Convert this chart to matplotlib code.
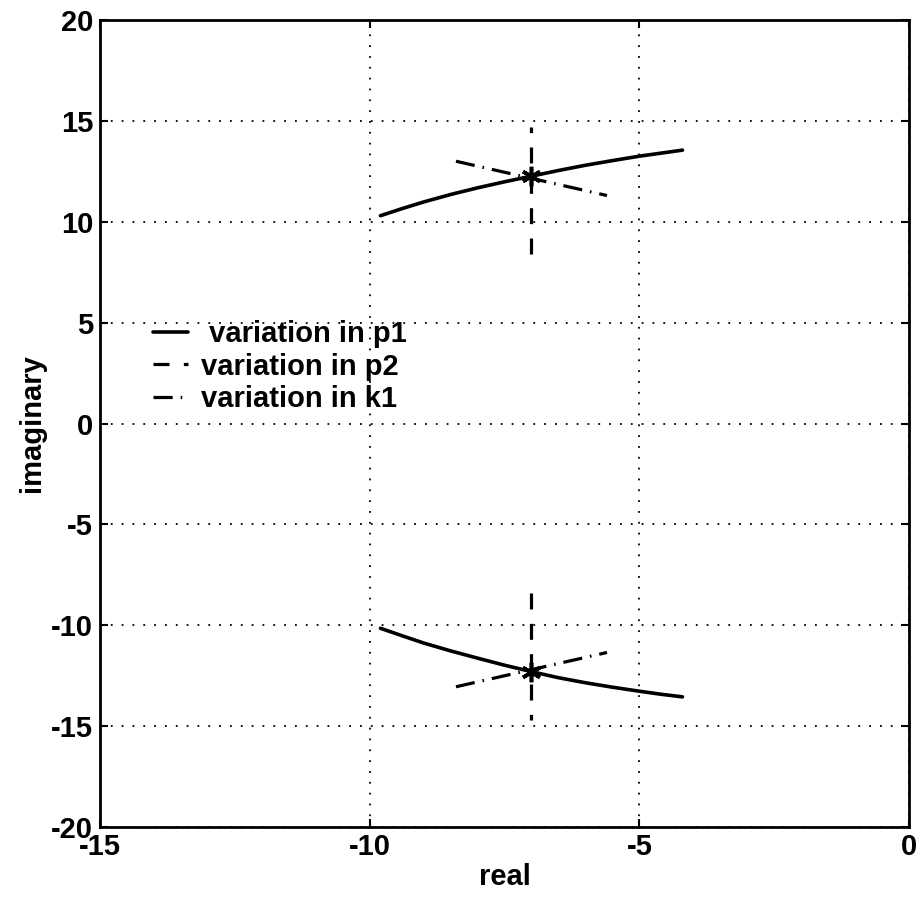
import matplotlib
matplotlib.use('Agg')
import matplotlib.pyplot as plt
from matplotlib.lines import Line2D

# root locus sensitivity: pole at -7 +/- 12.3j
star_re = [-7.0, -7.0]
star_im = [12.26, -12.3]

# variation in p1 (solid)
p1_up_re = [-9.8, -9.4, -9.0, -8.5, -8.0, -7.5, -7.0, -6.5, -6.0, -5.5, -5.0, -4.6, -4.2]
p1_up_im = [10.3, 10.65, 10.98, 11.35, 11.68, 11.98, 12.26, 12.54, 12.8, 13.03, 13.25, 13.4, 13.55]
p1_lo_re = [-9.8, -9.4, -9.0, -8.5, -8.0, -7.5, -7.0, -6.5, -6.0, -5.5, -5.0, -4.6, -4.2]
p1_lo_im = [-10.15, -10.52, -10.88, -11.27, -11.63, -11.98, -12.3, -12.6, -12.85, -13.07, -13.27, -13.42, -13.55]

# variation in p2 (dashed)
p2_up_re = [-7.0, -7.0]
p2_up_im = [8.4, 14.7]
p2_lo_re = [-7.0, -7.0]
p2_lo_im = [-8.4, -14.7]

# variation in k1 (dash-dot)
k1_up_re = [-8.4, -5.6]
k1_up_im = [13.0, 11.3]
k1_lo_re = [-8.4, -5.6]
k1_lo_im = [-13.05, -11.35]

xticks = [-15, -10, -5, 0]
yticks = [20, 15, 10, 5, 0, -5, -10, -15, -20]

plt.rcParams['font.family'] = ['Liberation Sans', 'DejaVu Sans']
plt.rcParams['font.weight'] = 'bold'
plt.rcParams['font.size'] = 21

fig = plt.figure(figsize=(9.21, 9.05), dpi=100)
ax = fig.add_axes([100 / 921, 1 - 827 / 905, 809 / 921, 807 / 905])

solid = dict(color='black', lw=2.6, solid_capstyle='round', solid_joinstyle='round')
dashed = dict(color='black', lw=2.3, linestyle=(0, (5.0, 4.5)))
dashdot = dict(color='black', lw=2.3, linestyle=(0, (6.0, 2.5, 0.5, 2.5)))

ax.plot(p1_up_re, p1_up_im, **solid)
ax.plot(p1_lo_re, p1_lo_im, **solid)
ax.plot(p2_up_re, p2_up_im, **dashed)
ax.plot(p2_lo_re, p2_lo_im, **dashed)
ax.plot(k1_up_re, k1_up_im, **dashdot)
ax.plot(k1_lo_re, k1_lo_im, **dashdot)
ax.plot(star_re, star_im, linestyle='none', marker=(6, 2, 0), markersize=14,
        markeredgewidth=2.6, color='black')

ax.set_xlim(-15, 0)
ax.set_ylim(-20, 20)
ax.set_xticks(xticks)
ax.set_yticks(yticks)
ax.set_xticklabels([str(v) for v in xticks])
ax.set_yticklabels([str(v) for v in yticks])
ax.tick_params(direction='in', length=6, width=1.5, top=True, right=True,
               labelsize=21, pad=5)
ax.tick_params(axis='x', pad=4)
ax.grid(True, color='black', linestyle=(0, (1, 5.0)), linewidth=1.3)
for s in ax.spines.values():
    s.set_linewidth(2)

ax.set_xlabel('real', fontsize=21, fontweight='bold', labelpad=2)
ax.set_ylabel('imaginary', fontsize=21, fontweight='bold', labelpad=4)

handles = [
    Line2D([], [], **solid),
    Line2D([], [], **dashed),
    Line2D([], [], **dashdot),
]
ax.legend(handles, [' variation in p1', 'variation in p2', 'variation in k1'],
          loc='upper left', bbox_to_anchor=(0.065, 0.628), frameon=False,
          borderpad=0, borderaxespad=0, handlelength=1.2, handletextpad=0.45,
          labelspacing=0.15, fontsize=21)

fig.savefig('out.png', dpi=100)
